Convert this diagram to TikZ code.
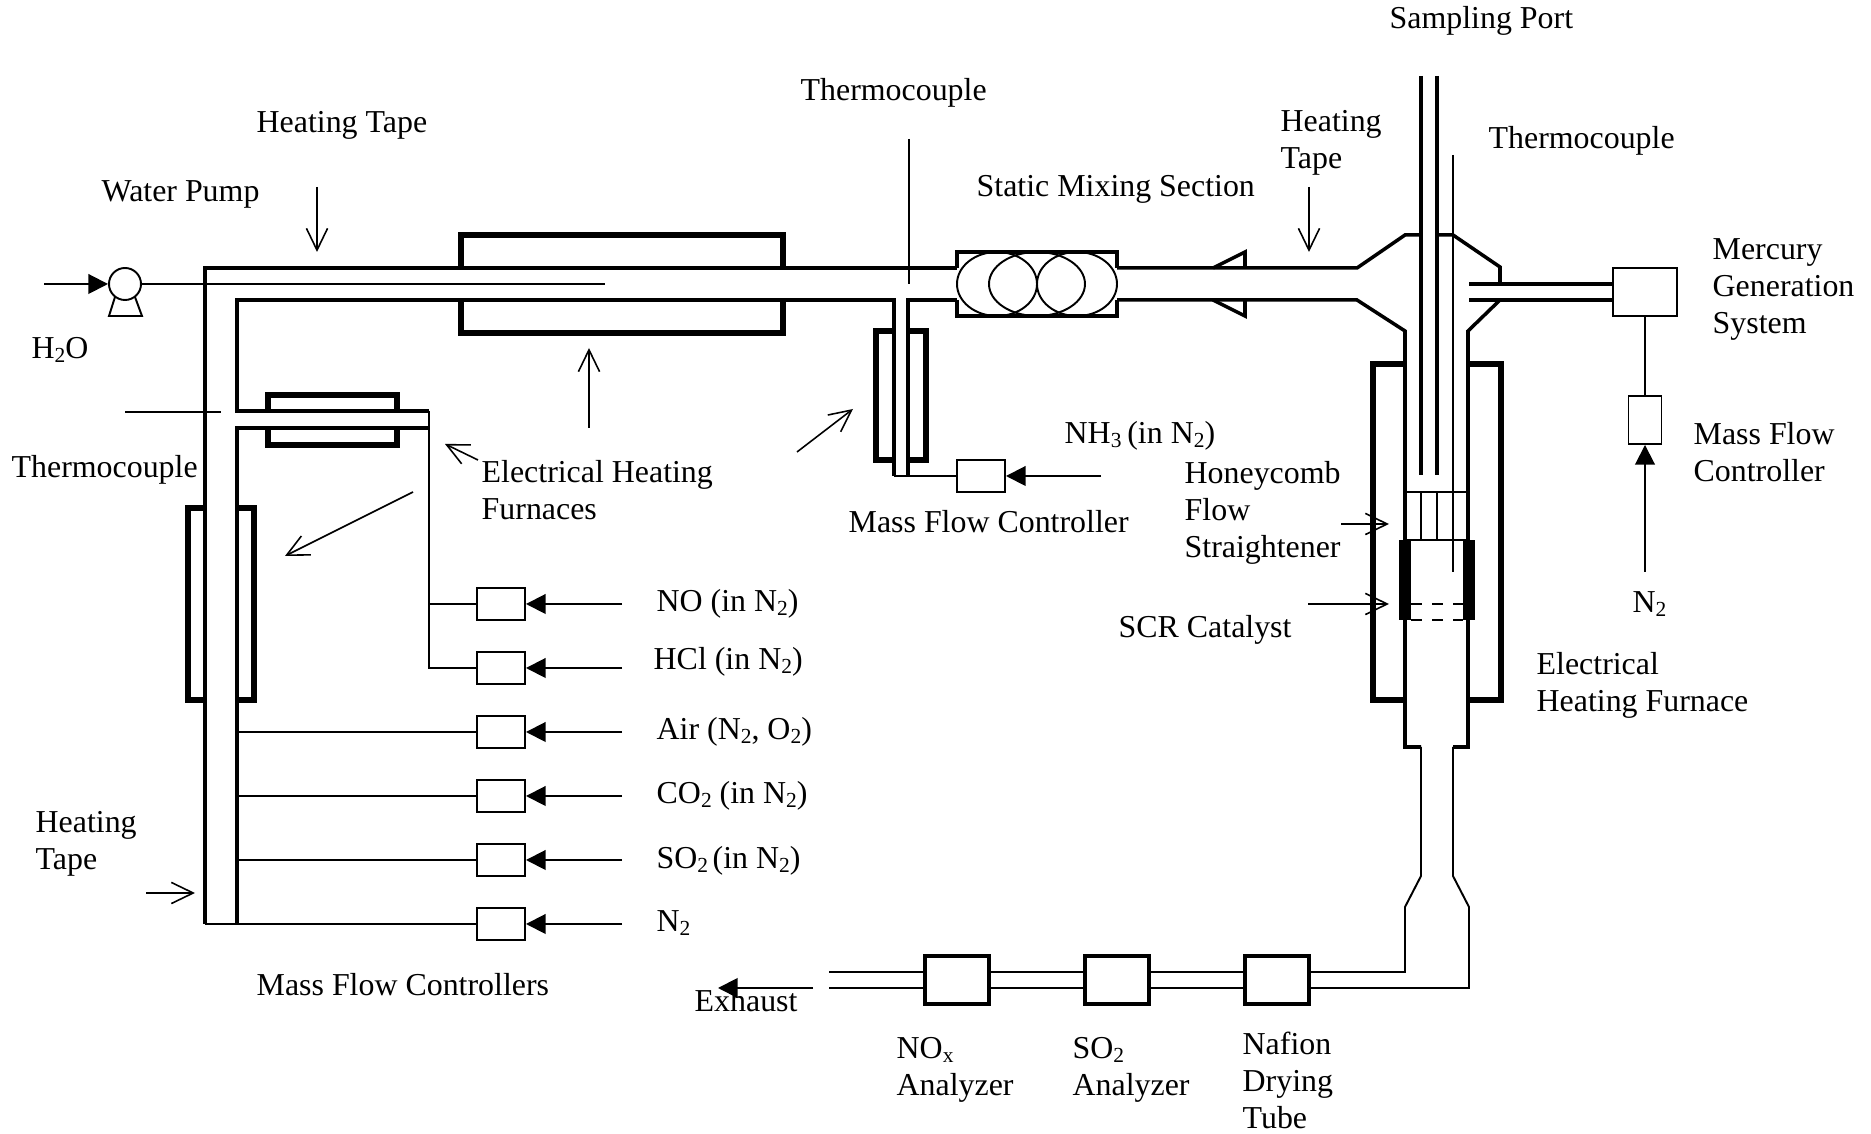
\documentclass[tikz,border=0pt]{standalone}
\usepackage{fontspec}
\setmainfont{Liberation Serif}
\usepackage{tikz}
\usetikzlibrary{arrows.meta}
\newcommand{\lowtxt}[1]{\raisebox{-1.1pt}{\fontsize{6.1}{6}\selectfont #1}}

\begin{document}
\begin{tikzpicture}[x=0.01cm, y=-0.01cm, every node/.style={font=\fontsize{9.07}{10.6}\selectfont}]
\tikzstyle{label}=[inner sep=0pt, anchor=base west, align=left]
\tikzstyle{pipe}=[line width=1pt, line join=miter]
\tikzstyle{furnace}=[line width=1.7pt, line join=miter]
\tikzstyle{thin}=[line width=0.55pt]
\tikzstyle{hair}=[line width=0.45pt]
\tikzstyle{leader}=[hair, -{Straight Barb[length=6.2pt, width=6pt]}]
\tikzstyle{feed}=[thin, -{Triangle[length=5.6pt, width=5.6pt]}]
\tikzstyle{mfc}=[draw, line width=0.55pt, minimum width=0.48cm, minimum height=0.32cm, inner sep=0pt]
\tikzstyle{analyzer}=[draw, line width=1.1pt, minimum width=0.64cm, minimum height=0.48cm, inner sep=0pt]
\useasboundingbox (0,0) rectangle (1871,1134);

\node[mfc] (no) at (501,604) {};
\node[mfc] (hcl) at (501,668) {};
\node[mfc] (air) at (501,732) {};
\node[mfc] (co) at (501,796) {};
\node[mfc] (so) at (501,860) {};
\node[mfc] (ntwo) at (501,924) {};
\node[mfc] (nh) at (981,476) {};
\node[mfc, minimum width=0.33cm, minimum height=0.48cm] (hgmfc) at (1645,420) {};
\node[mfc, minimum width=0.64cm, minimum height=0.48cm] (hggen) at (1645,292) {};
\node[analyzer] (nox) at (957,980) {};
\node[analyzer] (sotwo) at (1117,980) {};
\node[analyzer] (nafion) at (1277,980) {};
\node[draw, circle, thin, minimum size=0.32cm, inner sep=0pt] (pump) at (125,284) {};

\foreach \nm/\px/\py in {h2oin/44/284, waterend/605/284, teein/429/604, n2in/1645/572, exin/813/988,
  tcend/1101/476, exa/829/972, exb/829/988, upa/1405/972, upb/1469/988, tc1a/125/412, tc1b/221/412,
  tc2a/909/139, tc2b/909/284, tc3a/1453/155, tc3b/1453/572, ta/317/187, tb/317/252, tc/1309/187, td/1309/252,
  te/146/893, tf/195/893, fa/589/428, fb/589/348, fc/478/460, fd/445/444, fe/413/492, ff/285/556,
  fg/797/452, fh/853/409, ha/1341/524, hb/1389/524, sa/1308/604, sb/1389/604}
  \coordinate (\nm) at (\px,\py);
\coordinate (exout) at (718,988);
\coordinate (nhtee) at (894,476);
\coordinate (hgtopa) at (1469,284);
\coordinate (hgtopb) at (1469,300);

% main pipe and branches
\draw[pipe] (205,924) -- (205,268) -- (957,268);
\draw[pipe] (237,924) -- (237,428) -- (429,428);
\draw[pipe] (429,411) -- (237,411) -- (237,300) -- (894,300) -- (894,476);
\draw[pipe] (908,476) -- (908,300) -- (957,300);
\draw[thin] (429,411) -- (429,668) -- (hcl.west);
\draw[thin] (429,604) -- (no.west);
\draw[thin] (237,732) -- (air.west);
\draw[thin] (237,796) -- (co.west);
\draw[thin] (237,860) -- (so.west);
\draw[thin] (205,924) -- (ntwo.west);
\draw[thin] (nhtee) -- (nh.west);

% furnaces
\draw[furnace] (461,268) -- (461,235) -- (783,235) -- (783,268);
\draw[furnace] (461,300) -- (461,333) -- (783,333) -- (783,300);
\draw[furnace] (268,411) -- (268,395) -- (397,395) -- (397,411);
\draw[furnace] (268,428) -- (268,445) -- (397,445) -- (397,428);
\draw[furnace] (205,508) -- (188,508) -- (188,700) -- (205,700);
\draw[furnace] (237,508) -- (254,508) -- (254,700) -- (237,700);
\draw[furnace] (894,331) -- (876,331) -- (876,460) -- (894,460);
\draw[furnace] (908,331) -- (926,331) -- (926,460) -- (908,460);
\draw[furnace] (1405,364) -- (1373,364) -- (1373,700) -- (1405,700);
\draw[furnace] (1468,364) -- (1501,364) -- (1501,700) -- (1468,700);

% mixing section
\draw[pipe] (957,268) -- (957,252) -- (1117,252) -- (1117,268);
\draw[pipe] (957,300) -- (957,316) -- (1117,316) -- (1117,300);
\draw[thin] (997,284) ellipse (40 and 32);
\draw[thin] (1037,284) ellipse (48 and 32);
\draw[thin] (1077,284) ellipse (40 and 32);

% reactor
\draw[pipe] (1117,268) -- (1357,268) -- (1405,235) -- (1421,235);
\draw[pipe] (1117,300) -- (1357,300) -- (1405,331) -- (1405,747) -- (1421,747);
\draw[pipe] (1213,268) -- (1245,252) -- (1245,268);
\draw[pipe] (1213,300) -- (1245,316) -- (1245,300);
\draw[pipe] (1437,235) -- (1453,235) -- (1500,267) -- (1500,284);
\draw[pipe] (1500,300) -- (1468,331) -- (1468,747) -- (1453,747);
\draw[pipe] (1421,76) -- (1421,475);
\draw[pipe] (1437,76) -- (1437,475);
\draw[pipe] (hgtopa) -- (hggen.west |- hgtopa);
\draw[pipe] (hgtopb) -- (hggen.west |- hgtopb);
\draw[thin] (1405,492) -- (1468,492);
\draw[thin] (1405,540) -- (1468,540);
\draw[thin] (1421,492) -- (1421,540);
\draw[thin] (1437,492) -- (1437,540);
\fill (1399,540) rectangle (1411,620);
\fill (1463,540) rectangle (1475,620);
\draw[thin, dashed, line width=0.7pt] (1411,604) -- (1463,604);
\draw[thin, dashed, line width=0.7pt] (1411,620) -- (1463,620);
\draw[thin] (1421,747) -- (1421,876) -- (1405,907) -- (upa) -- (nafion.east |- upa);
\draw[thin] (1453,747) -- (1453,876) -- (1469,907) -- (upb) -- (nafion.east |- upb);
\foreach \lft/\rgt in {nox/sotwo, sotwo/nafion} {
  \draw[thin] (\lft.east |- exa) -- (\rgt.west |- exa);
  \draw[thin] (\lft.east |- exb) -- (\rgt.west |- exb);
}
\draw[thin] (exa) -- (nox.west |- exa);
\draw[thin] (exb) -- (nox.west |- exb);

% pump, feeds and leaders
\draw[thin] (pump.east) -- (waterend);
\draw[thin] (115,297) -- (109,316) -- (142,316) -- (135,297);
\draw[feed] (h2oin) -- (pump.west);
\foreach \gas/\ly in {no/604, hcl/668, air/732, co/796, so/860, ntwo/924}
  \draw[feed] (622,\ly) -- (\gas.east);
\draw[feed] (tcend) -- (nh.east);
\draw[feed] (n2in) -- (hgmfc.south);
\draw[thin] (hgmfc.north) -- (hggen.south);
\draw[feed] (exin) -- (exout);
\foreach \from/\to in {tc1a/tc1b, tc2a/tc2b, tc3a/tc3b}
  \draw[thin] (\from) -- (\to);
\foreach \from/\to in {ta/tb, tc/td, te/tf, fa/fb, fc/fd, fe/ff, fg/fh, ha/hb, sa/sb}
  \draw[leader] (\from) -- (\to);

% labels
\node[label] (samplabel) at (1389,29) {Sampling Port};
\node[label] (tclabel) at (800,101) {Thermocouple};
\node[label] (tapelabel) at (256,133) {Heating Tape};
\node[label] (pumplabel) at (101,202) {Water Pump};
\node[label] (waterlabel) at (31,359) {H\lowtxt{2}O};
\node[label] (tcleft) at (11,478) {Thermocouple};
\node[label] (furnlabel) at (481,520) {Electrical Heating\\Furnaces};
\node[label] (mixlabel) at (976,197) {Static Mixing Section};
\node[label] (taperight) at (1280,169) {Heating\\Tape};
\node[label] (tcright) at (1488,149) {Thermocouple};
\node[label] (hglabel) at (1712,334) {Mercury\\Generation\\System};
\node[label] (mfcright) at (1693,482) {Mass Flow\\Controller};
\node[label] (nhlabel) at (1064,444) {NH\lowtxt{3}\kern-0.6pt{} (in N\lowtxt{2})};
\node[label] (honeylabel) at (1184,558) {Honeycomb\\Flow\\Straightener};
\node[label] (mfcmid) at (848,533) {Mass Flow Controller};
\node[label] (scrlabel) at (1118,638) {SCR Catalyst};
\node[label] (ntwolabel) at (1632,613) {N\lowtxt{2}};
\node[label] (reactlabel) at (1536,712) {Electrical\\Heating Furnace};
\node[label] (nolabel) at (656,612) {NO (in N\lowtxt{2})};
\node[label] (hcllabel) at (653,670) {HCl (in N\lowtxt{2})};
\node[label] (airlabel) at (656,740) {Air (N\lowtxt{2}, O\lowtxt{2})};
\node[label] (colabel) at (656,804) {CO\lowtxt{2} (in N\lowtxt{2})};
\node[label] (solabel) at (656,869) {SO\lowtxt{2}\kern-1pt{} (in N\lowtxt{2})};
\node[label] (nlabel) at (656,932) {N\lowtxt{2}};
\node[label] (tapeleft) at (35,870) {Heating\\Tape};
\node[label] (mfcleft) at (256,996) {Mass Flow Controllers};
\node[label] (exlabel) at (694,1012) {Exhaust};
\node[label] (noxlabel) at (896,1096) {NO\lowtxt{x}\\Analyzer};
\node[label] (sotwolabel) at (1072,1096) {SO\lowtxt{2}\\Analyzer};
\node[label] (nafionlabel) at (1242,1129) {Nafion\\Drying\\Tube};
\end{tikzpicture}
\end{document}
